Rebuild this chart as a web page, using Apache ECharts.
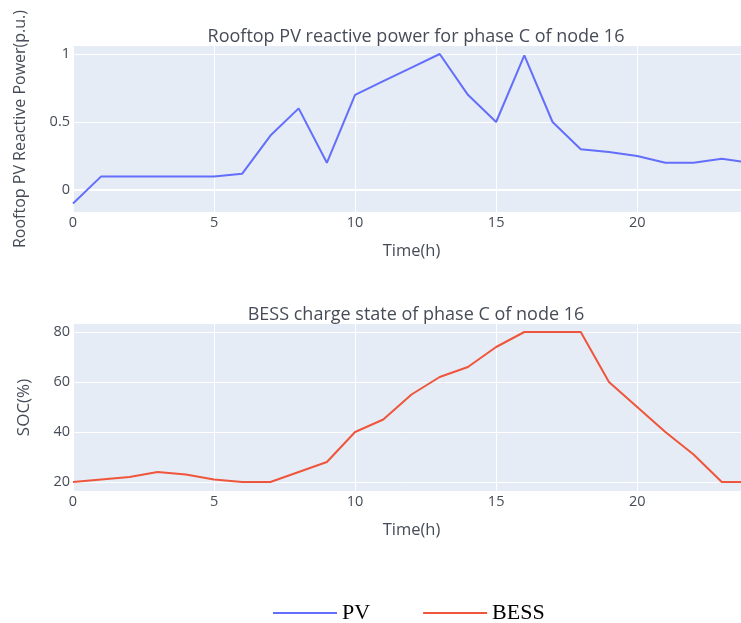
<!DOCTYPE html>
<html>
<head>
<meta charset="utf-8">
<script src="https://cdn.jsdelivr.net/npm/echarts@6/dist/echarts.min.js"></script>
<style>
  html, body { margin: 0; padding: 0; background: #fff; }
  #chart { width: 741px; height: 623px; }
</style>
</head>
<body>
<div id="chart"></div>
<script>
// hours 0..24
const hours = [0, 1, 2, 3, 4, 5, 6, 7, 8, 9, 10, 11, 12, 13, 14, 15, 16, 17, 18, 19, 20, 21, 22, 23, 24];
const pvValues = [-0.1, 0.1, 0.1, 0.1, 0.1, 0.1, 0.12, 0.4, 0.6, 0.2, 0.7, 0.8, 0.9, 1.0, 0.7, 0.5, 0.99, 0.5, 0.3, 0.28, 0.25, 0.2, 0.2, 0.23, 0.2];
const bessValues = [20, 21, 22, 24, 23, 21, 20, 20, 24, 28, 40, 45, 55, 62, 66, 74, 80, 80, 80, 60, 50, 40, 31, 20, 20];
const pvTicks = [0, 0.5, 1];
const socTicks = [20, 40, 60, 80];

const textColor = "#464c57";
const font = "Open Sans";

const chart = echarts.init(document.getElementById("chart"));

function xAxisOpt(gridIndex) {
  return {
    type: "value",
    gridIndex: gridIndex,
    min: 0,
    max: 24,
    interval: 5,
    name: "Time(h)",
    nameLocation: "middle",
    nameGap: 31,
    nameTextStyle: { color: textColor, fontFamily: font, fontSize: 16.5 },
    axisLine: { show: false },
    axisTick: { show: false },
    axisLabel: {
      color: textColor,
      fontFamily: font,
      fontSize: 14.5,
      margin: 3,
      formatter: (v) => (v % 5 === 0 ? String(v) : ""),
    },
    splitLine: { show: true, lineStyle: { color: "#ffffff", width: 1 } },
  };
}

function yAxisOpt(gridIndex, min, max, ticks, name, gap, nameSize) {
  return {
    type: "value",
    gridIndex: gridIndex,
    min: min,
    max: max,
    name: name,
    nameLocation: "middle",
    nameGap: gap,
    nameTextStyle: { color: textColor, fontFamily: font, fontSize: nameSize },
    axisLine: { show: false },
    axisTick: { show: false, customValues: ticks },
    axisLabel: {
      color: textColor,
      fontFamily: font,
      fontSize: 14.5,
      margin: 3,
      customValues: ticks,
    },
    splitLine: { show: true, lineStyle: { color: "#ffffff", width: 1 } },
  };
}

chart.setOption({
  animation: false,
  title: [
    {
      text: "Rooftop PV reactive power for phase C of node 16",
      left: 411,
      top: 23,
      textAlign: "center",
      textStyle: { color: textColor, fontFamily: font, fontSize: 18, fontWeight: "normal" },
    },
    {
      text: "BESS charge state of phase C of node 16",
      left: 411,
      top: 301,
      textAlign: "center",
      textStyle: { color: textColor, fontFamily: font, fontSize: 18, fontWeight: "normal" },
    },
  ],
  legend: {
    left: 268,
    top: 597,
    icon: "rect",
    itemWidth: 64,
    itemHeight: 2,
    itemGap: 53,
    itemTextGap: 4,
    textStyle: { color: "#000", fontFamily: "Liberation Serif", fontSize: 22 },
    data: ["PV", "BESS"],
  },
  grid: [
    { left: 73, top: 46, width: 677, height: 166, show: true, backgroundColor: "#E5ECF6", borderWidth: 0, outerBoundsMode: "none" },
    { left: 73, top: 324, width: 677, height: 167, show: true, backgroundColor: "#E5ECF6", borderWidth: 0, outerBoundsMode: "none" },
  ],
  xAxis: [xAxisOpt(0), xAxisOpt(1)],
  yAxis: [
    yAxisOpt(0, -0.162, 1.059, pvTicks, "Rooftop PV Reactive Power(p.u.)", 45, 16),
    yAxisOpt(1, 16.4, 83.2, socTicks, "SOC(%)", 40, 17),
  ],
  series: [
    {
      name: "PV",
      type: "line",
      xAxisIndex: 0,
      yAxisIndex: 0,
      data: hours.map((h, i) => [h, pvValues[i]]),
      showSymbol: false,
      lineStyle: { color: "#636efa", width: 2 },
      itemStyle: { color: "#636efa" },
      markLine: {
        silent: true,
        symbol: "none",
        label: { show: false },
        lineStyle: { color: "#ffffff", width: 2, type: "solid" },
        data: [{ yAxis: 0 }],
        z: 1,
      },
    },
    {
      name: "BESS",
      type: "line",
      xAxisIndex: 1,
      yAxisIndex: 1,
      data: hours.map((h, i) => [h, bessValues[i]]),
      showSymbol: false,
      lineStyle: { color: "#EF553B", width: 2 },
      itemStyle: { color: "#EF553B" },
    },
  ],
});
</script>
</body>
</html>
